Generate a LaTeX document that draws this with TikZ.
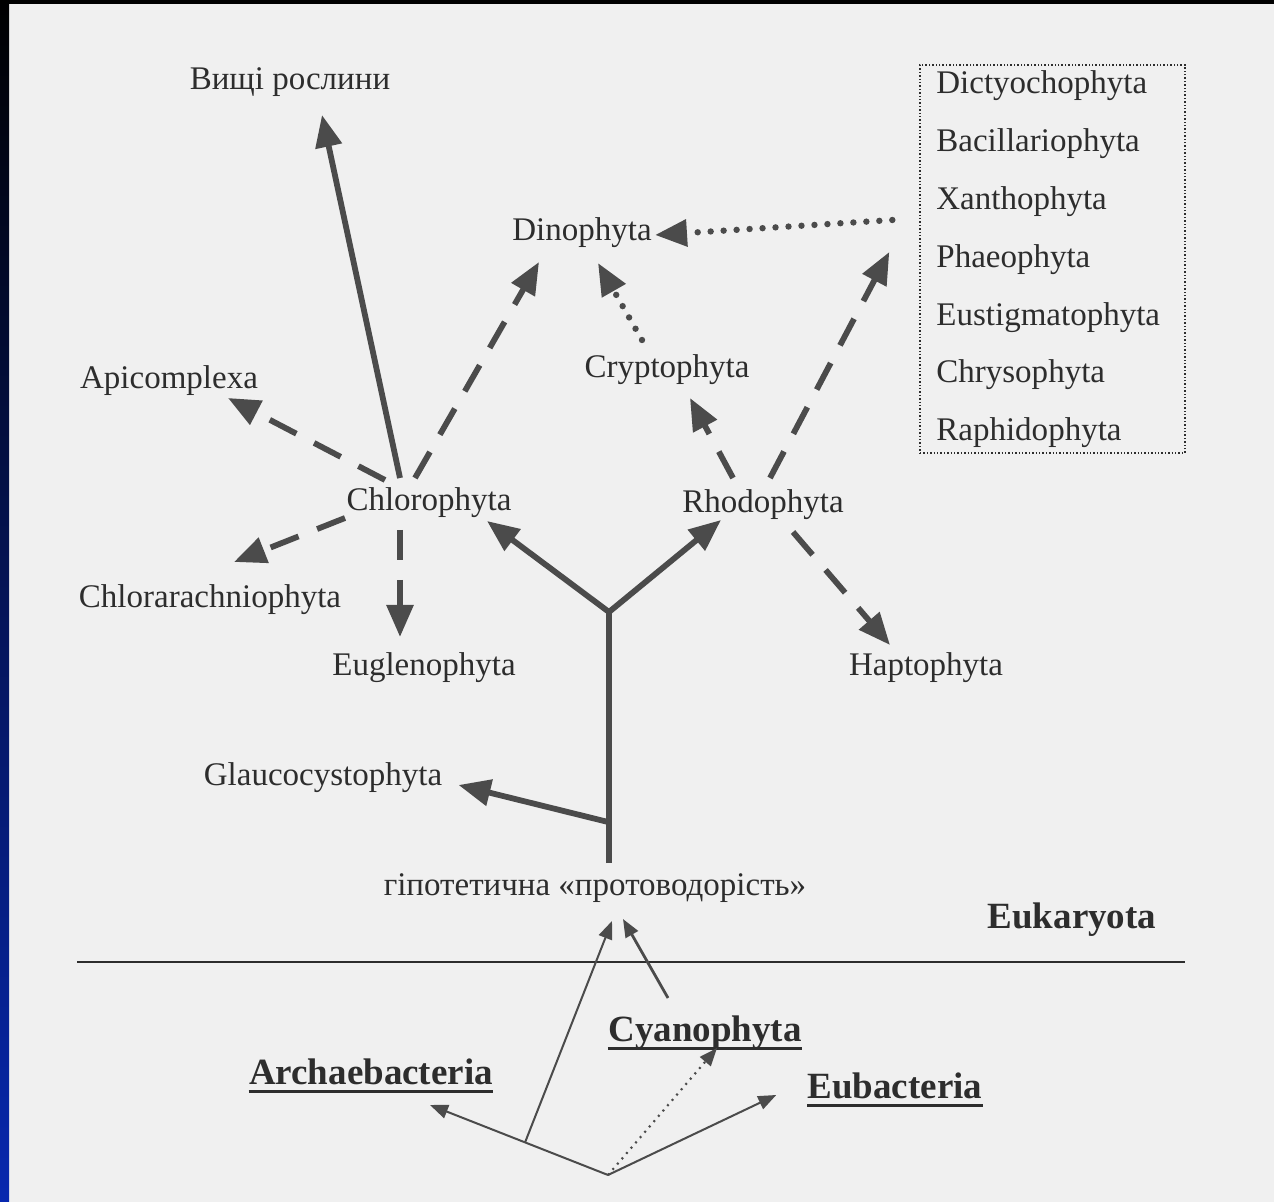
\documentclass[tikz,border=0pt]{standalone}
\usepackage{fontspec}
\setmainfont{Liberation Serif}
\usetikzlibrary{arrows.meta,positioning,calc}
\definecolor{pagecolor}{RGB}{240,240,240}
\definecolor{inkcolor}{RGB}{45,45,45}
\definecolor{linecolor}{RGB}{75,75,75}
\definecolor{slidebar}{RGB}{8,40,175}

\begin{document}
\begin{tikzpicture}[
    x=0.5pt, y=-0.5pt,
    taxon/.style={inner sep=0pt, text=inkcolor, font=\fontsize{16.5}{19}\selectfont},
    group/.style={inner sep=0pt, text=inkcolor, font=\fontsize{18.5}{22}\selectfont\bfseries},
    boxitem/.style={taxon, text height=12pt, text depth=4pt, font=\fontsize{16.5}{20}\selectfont},
    underline/.style={draw=inkcolor, line width=1.4pt},
    trunk/.style={draw=linecolor, line width=2.9pt},
    descent/.style={trunk, -{Triangle[length=16pt,width=13pt]}},
    transfer/.style={descent, dash pattern=on 15pt off 10pt},
    dotline/.style={descent, line width=3.2pt, line cap=round, dash pattern=on 0pt off 6.5pt},
    origin/.style={draw=linecolor, line width=1pt, -{Triangle[length=9pt,width=7pt]}},
    origindot/.style={origin, line width=1.1pt, dash pattern=on 1pt off 2.5pt}
]
    % Page
    \useasboundingbox (0,0) rectangle (1274,1202);
    \fill[pagecolor] (0,0) rectangle (1274,1202);
    \shade[top color=black, bottom color=slidebar] (0,0) rectangle (9,1202);
    \fill[black] (0,0) rectangle (1274,4);

    % Eukaryotic taxa
    \node[taxon] (vyshchi) at (290,82) {Вищі рослини};
    \node[taxon] (dino) at (582,233) {Dinophyta};
    \node[taxon] (crypto) at (667,370) {Cryptophyta};
    \node[taxon] (apic) at (169,381) {Apicomplexa};
    \node[taxon] (chloro) at (429,503) {Chlorophyta};
    \node[taxon] (rhodo) at (763,505) {Rhodophyta};
    \node[taxon] (chlorar) at (210,600) {Chlorarachniophyta};
    \node[taxon] (eugl) at (424,668) {Euglenophyta};
    \node[taxon] (hapto) at (926,668) {Haptophyta};
    \node[taxon] (glauco) at (323,778) {Glaucocystophyta};
    \node[taxon] (proto) at (595,888) {гіпотетична «протоводорість»};
    \node[group] (eukar) at (1072,920) {Eukaryota};

    % Heterokont box
    \node[draw=inkcolor, densely dotted, line width=0.7pt, minimum width=132.5pt, minimum height=194pt, inner sep=0pt] (plastidbox) at (1052.5,259) {};
    \node[boxitem, anchor=west] (dicty) at (936,86) {Dictyochophyta};
    \node[boxitem, below=12.5pt of dicty.south west, anchor=north west] (bacil) {Bacillariophyta};
    \node[boxitem, below=12.5pt of bacil.south west, anchor=north west] (xantho) {Xanthophyta};
    \node[boxitem, below=12.5pt of xantho.south west, anchor=north west] (phaeo) {Phaeophyta};
    \node[boxitem, below=12.5pt of phaeo.south west, anchor=north west] (eustig) {Eustigmatophyta};
    \node[boxitem, below=12.5pt of eustig.south west, anchor=north west] (chryso) {Chrysophyta};
    \node[boxitem, below=12.5pt of chryso.south west, anchor=north west] (raphid) {Raphidophyta};

    % Prokaryotes
    \node[group] (cyano) at (705,1033) {Cyanophyta};
    \node[group] (archae) at (371,1072) {Archaebacteria};
    \node[group] (eubac) at (895,1086) {Eubacteria};
    \draw[underline] ($(cyano.base west)+(0,7)$) -- ($(cyano.base east)+(0,7)$);
    \draw[underline] ($(archae.base west)+(0,7)$) -- ($(archae.base east)+(0,7)$);
    \draw[underline] ($(eubac.base west)+(0,7)$) -- ($(eubac.base east)+(0,7)$);
    \draw[draw=inkcolor, line width=1.3pt] (77,962) -- (1185,962);

    % Primary tree
    \coordinate (stem) at ($(proto.north)+(14,-10)$);
    \coordinate (fork) at (609,612);
    \draw[trunk] (stem) -- (fork);
    \draw[descent] (fork) -- ($(chloro)+(58,18)$);
    \draw[descent] (fork) -- ($(rhodo)+(-42,15)$);
    \draw[descent] ($(stem)!0.163!(fork)$) -- ($(glauco.east)+(16,7)$);
    \draw[descent] ($(chloro)+(-29,-25)$) -- ($(vyshchi)+(32,33)$);

    % Secondary endosymbioses
    \draw[transfer] ($(chloro)+(-14,-25)$) -- ($(dino)+(-43,29)$);
    \draw[transfer] ($(chloro)+(-44,-23)$) -- ($(apic)+(59,17)$);
    \draw[transfer] ($(chloro)+(-84,15)$) -- ($(chlorar)+(24,-38)$);
    \draw[transfer] ($(chloro)+(-29,27)$) -- ($(eugl)+(-24,-31)$);
    \draw[transfer] ($(rhodo)+(-30,-27)$) -- ($(crypto)+(23,28)$);
    \draw[transfer] ($(rhodo)+(7,-27)$) -- ($(plastidbox.west)+(-30,-7)$);
    \draw[transfer] ($(rhodo)+(30,27)$) -- ($(hapto)+(-36,-23)$);
    \draw[dotline] ($(crypto)+(-25,-30)$) -- ($(dino)+(16,30)$);
    \draw[dotline] ($(plastidbox.west)+(-27,-39)$) -- ($(dino)+(73,2)$);

    % Origin of the eukaryotic cell
    \coordinate (root) at (608,1175);
    \coordinate (archaetip) at ($(archae)+(59,33)$);
    \draw[origin] (root) -- (archaetip);
    \draw[origin] ($(root)!0.466!(archaetip)$) -- ($(proto)+(17,33)$);
    \draw[origin, line width=1.4pt] ($(cyano)+(-37,-35)$) -- ($(proto)+(28,31)$);
    \draw[origindot] (root) -- ($(cyano)+(12,15)$);
    \draw[origin] (root) -- ($(eubac.west)+(-31,9)$);
\end{tikzpicture}
\end{document}
